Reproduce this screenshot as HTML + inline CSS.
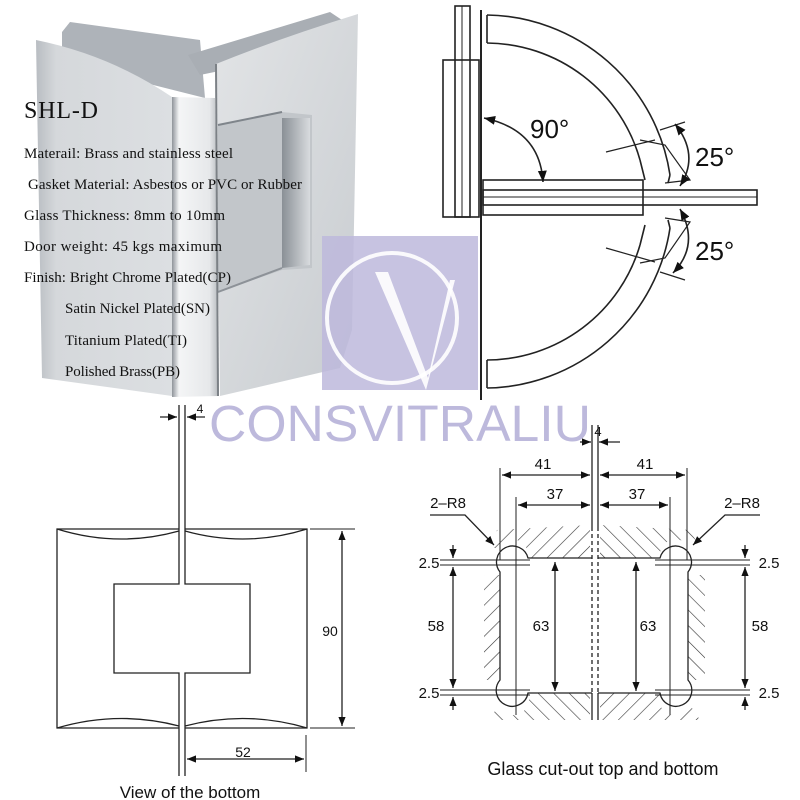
<!DOCTYPE html>
<html><head><meta charset="utf-8"><style>
html,body{margin:0;padding:0;background:#fff}
svg{display:block}
</style></head><body>
<svg width="800" height="800" viewBox="0 0 800 800" xmlns="http://www.w3.org/2000/svg">
<defs>
<linearGradient id="gL" x1="0" y1="0" x2="1" y2="0"><stop offset="0" stop-color="#b9bdc2"/><stop offset="0.15" stop-color="#d5d8db"/><stop offset="1" stop-color="#dcdfe2"/></linearGradient>
<linearGradient id="gE" x1="0" y1="0" x2="1" y2="0"><stop offset="0" stop-color="#8f949a"/><stop offset="0.15" stop-color="#f4f5f6"/><stop offset="0.8" stop-color="#e6e8ea"/><stop offset="1" stop-color="#b4b8bc"/></linearGradient>
<linearGradient id="gR" x1="0" y1="0" x2="1" y2="1"><stop offset="0" stop-color="#e2e4e6"/><stop offset="1" stop-color="#c8ccd0"/></linearGradient>
<linearGradient id="gC" x1="0" y1="0" x2="1" y2="0"><stop offset="0" stop-color="#8a9096"/><stop offset="1" stop-color="#d8dbde"/></linearGradient>
<pattern id="hat" width="11" height="11" patternUnits="userSpaceOnUse" patternTransform="rotate(45)"><line x1="0" y1="0" x2="0" y2="11" stroke="#333" stroke-width="1.2"/></pattern>
<pattern id="hat2" width="11" height="11" patternUnits="userSpaceOnUse" patternTransform="rotate(-45)"><line x1="0" y1="0" x2="0" y2="11" stroke="#333" stroke-width="1.2"/></pattern>
<marker id="ar" viewBox="0 0 10 10" refX="10" refY="5" markerWidth="7" markerHeight="7" orient="auto-start-reverse"><path d="M0,1 L10,5 L0,9 z" fill="#111"/></marker>
</defs>

<!-- ===== hinge photo ===== -->
<polygon points="62,32 70,22 200,40 205,98 62,62" fill="#aeb3b9"/>
<polygon points="188,55 330,12 345,22 345,45 200,75" fill="#a9aeb4"/>
<path d="M36,40 Q110,55 172,97 L172,396 L42,378 Z" fill="url(#gL)"/>
<path d="M172,97 L215,98 L219,396 L172,397 Z" fill="url(#gE)"/>
<path d="M216,64 Q280,38 358,14 L352,330 L340,368 L220,396 Z" fill="url(#gR)"/>
<polygon points="218,125 282,112 312,115 312,268 282,270 218,292" fill="#c2c6ca"/>
<polygon points="282,118 310,118 310,265 282,268" fill="url(#gC)"/>
<polyline points="218,292 282,268" stroke="#8d9298" stroke-width="2" fill="none"/>
<polyline points="218,125 282,112" stroke="#7f858b" stroke-width="2" fill="none"/>
<line x1="216" y1="64" x2="218" y2="396" stroke="#7c8186" stroke-width="2"/>

<g font-family="'Liberation Serif',serif" fill="#111" lengthAdjust="spacingAndGlyphs">
<text x="24" y="118" font-size="24" textLength="74">SHL-D</text>
<text x="24" y="158" font-size="15" textLength="209">Materail: Brass and stainless steel</text>
<text x="28" y="189" font-size="15" textLength="274">Gasket Material: Asbestos or PVC or Rubber</text>
<text x="24" y="220" font-size="15" textLength="201">Glass Thickness: 8mm to 10mm</text>
<text x="24" y="251" font-size="15" textLength="198">Door weight: 45 kgs maximum</text>
<text x="24" y="282" font-size="15" textLength="207">Finish: Bright Chrome Plated(CP)</text>
<text x="65" y="313" font-size="15" textLength="145">Satin Nickel Plated(SN)</text>
<text x="65" y="345" font-size="15" textLength="122">Titanium Plated(TI)</text>
<text x="65" y="376" font-size="15" textLength="115">Polished Brass(PB)</text>
</g>

<!-- ===== top right diagram ===== -->
<g stroke="#222" fill="none" stroke-width="1.6">
<rect x="455" y="6" width="15" height="211"/>
<line x1="462" y1="6" x2="462" y2="217" stroke-width="1"/>
<rect x="443" y="60" width="36" height="157"/>
<line x1="481" y1="10" x2="481" y2="400" stroke-width="2"/>
<path d="M487,15 A188,188 0 0 1 670,175"/>
<path d="M487,43 A160,160 0 0 1 640,160"/>
<line x1="487" y1="15" x2="487" y2="43"/>
<path d="M640,160 L645,180 M670,175 L668,183"/>
<path d="M487,388 A188,188 0 0 0 670,228"/>
<path d="M487,360 A160,160 0 0 0 640,245"/>
<line x1="487" y1="388" x2="487" y2="360"/>
<path d="M640,245 L645,225 M670,228 L668,220"/>
<rect x="483" y="180" width="160" height="35"/>
<rect x="483" y="190" width="274" height="15"/>
<line x1="483" y1="197" x2="757" y2="197" stroke-width="1"/>
<path d="M640,140 L665,145 L690,180 L665,183" stroke-width="1.2"/>
<path d="M640,263 L665,258 L690,222 L665,218" stroke-width="1.2"/>
<path d="M606,152 L655,140 M606,248 L655,262" stroke-width="1.2"/>
<path d="M660,130 L685,122 M660,272 L685,280" stroke-width="1.2"/>
<path d="M484,118 Q540,130 543,182" marker-start="url(#ar)" marker-end="url(#ar)"/>
<path d="M675,124 Q700,155 680,186" marker-start="url(#ar)" marker-end="url(#ar)"/>
<path d="M680,209 Q700,245 673,273" marker-start="url(#ar)" marker-end="url(#ar)"/>
</g>
<g font-family="'Liberation Sans',sans-serif" fill="#111">
<text x="530" y="138" font-size="26">90°</text>
<text x="695" y="166" font-size="26">25°</text>
<text x="695" y="260" font-size="26">25°</text>
</g>

<!-- ===== watermark ===== -->
<rect x="322" y="236" width="156" height="154" fill="#bdb9dc" opacity="0.85"/>
<circle cx="392" cy="318" r="65" fill="none" stroke="#fff" stroke-width="4" opacity="0.9"/>
<path d="M375,272 L388,272 L428,378 L450,280 L455,280 L426,390 Z" fill="#fff" opacity="0.9"/>
<text x="400" y="441" text-anchor="middle" font-family="'Liberation Sans',sans-serif" font-size="51" fill="#bdb9dc" textLength="382" lengthAdjust="spacingAndGlyphs">CONSVITRALIU</text>

<!-- ===== bottom left ===== -->
<g stroke="#222" fill="none" stroke-width="1.3">
<path d="M179,405 L179,584 L114,584 L114,673 L179,673 L179,776"/>
<path d="M185,405 L185,584 L250,584 L250,673 L185,673 L185,776"/>
<path d="M179,529 L57,529 L57,728 L179,728"/>
<path d="M185,529 L307,529 L307,728 L185,728"/>
<path d="M57,529 Q118,548 179,531 M185,531 Q246,548 307,529"/>
<path d="M57,728 Q118,710 179,726 M185,726 Q246,710 307,728"/>
<path d="M310,529 L355,529 M310,728 L355,728" stroke-width="1"/>
<line x1="342" y1="531" x2="342" y2="726" marker-start="url(#ar)" marker-end="url(#ar)"/>
<line x1="306" y1="735" x2="306" y2="772" stroke-width="1"/>
<line x1="187" y1="759" x2="304" y2="759" marker-start="url(#ar)" marker-end="url(#ar)"/>
<line x1="160" y1="417" x2="177" y2="417" marker-end="url(#ar)"/>
<line x1="205" y1="417" x2="187" y2="417" marker-end="url(#ar)"/>
</g>
<g font-family="'Liberation Sans',sans-serif" fill="#111">
<text x="330" y="636" font-size="14" text-anchor="middle">90</text>
<text x="243" y="757" font-size="14" text-anchor="middle">52</text>
<text x="200" y="413" font-size="12" text-anchor="middle">4</text>
<text x="190" y="798" font-size="17" text-anchor="middle">View of the bottom</text>
</g>

<!-- ===== bottom right ===== -->
<g>
<path d="M497,530 L590,525 L590,558 L528,558 A16,16 0 0 0 498,548 L490,548 Z" fill="url(#hat)"/>
<path d="M600,525 L690,530 L700,548 L690,548 A16,16 0 0 0 660,558 L600,558 Z" fill="url(#hat2)"/>
<path d="M484,575 L500,575 L500,680 L484,680 Z" fill="url(#hat)"/>
<path d="M688,575 L705,575 L705,680 L688,680 Z" fill="url(#hat2)"/>
<path d="M498,705 A16,16 0 0 0 528,693 L590,693 L590,720 L490,720 Z" fill="url(#hat2)"/>
<path d="M600,693 L660,693 A16,16 0 0 0 690,705 L700,720 L600,720 Z" fill="url(#hat)"/>
</g>
<g stroke="#222" fill="none" stroke-width="1.3">
<line x1="592" y1="425" x2="592" y2="527"/><line x1="598" y1="425" x2="598" y2="527"/>
<line x1="592" y1="527" x2="592" y2="693" stroke-dasharray="4,3"/><line x1="598" y1="527" x2="598" y2="693" stroke-dasharray="4,3"/>
<line x1="592" y1="693" x2="592" y2="720"/><line x1="598" y1="693" x2="598" y2="720"/>
<path d="M592,558 L528,558 A16,16 0 1 0 500,572 L500,680 A16,16 0 1 0 528,693 L592,693"/>
<path d="M598,558 L660,558 A16,16 0 1 1 688,572 L688,680 A16,16 0 1 1 660,693 L598,693"/>
<path d="M500,468 L500,560 M516,497 L516,715 M670,497 L670,715 M687,468 L687,560" stroke-width="1"/>
<line x1="502" y1="475" x2="590" y2="475" marker-start="url(#ar)" marker-end="url(#ar)"/>
<line x1="600" y1="475" x2="685" y2="475" marker-start="url(#ar)" marker-end="url(#ar)"/>
<line x1="518" y1="505" x2="590" y2="505" marker-start="url(#ar)" marker-end="url(#ar)"/>
<line x1="600" y1="505" x2="668" y2="505" marker-start="url(#ar)" marker-end="url(#ar)"/>
<line x1="580" y1="442" x2="591" y2="442" marker-end="url(#ar)"/>
<line x1="620" y1="442" x2="599" y2="442" marker-end="url(#ar)"/>
<path d="M430,515 L465,515 L494,545" marker-end="url(#ar)"/>
<path d="M760,515 L725,515 L693,545" marker-end="url(#ar)"/>
<path d="M440,560 L530,560 M440,565 L530,565 M440,690 L530,690 M440,695 L530,695" stroke-width="1"/>
<path d="M655,560 L750,560 M655,565 L750,565 M655,690 L750,690 M655,695 L750,695" stroke-width="1"/>
<line x1="453" y1="567" x2="453" y2="688" marker-start="url(#ar)" marker-end="url(#ar)"/>
<line x1="555" y1="562" x2="555" y2="691" marker-start="url(#ar)" marker-end="url(#ar)"/>
<line x1="636" y1="562" x2="636" y2="691" marker-start="url(#ar)" marker-end="url(#ar)"/>
<line x1="745" y1="567" x2="745" y2="688" marker-start="url(#ar)" marker-end="url(#ar)"/>
<line x1="453" y1="545" x2="453" y2="558" marker-end="url(#ar)"/>
<line x1="453" y1="710" x2="453" y2="697" marker-end="url(#ar)"/>
<line x1="745" y1="545" x2="745" y2="558" marker-end="url(#ar)"/>
<line x1="745" y1="710" x2="745" y2="697" marker-end="url(#ar)"/>
</g>
<g font-family="'Liberation Sans',sans-serif" fill="#111" font-size="15">
<text x="598" y="436" text-anchor="middle" font-size="13">4</text>
<text x="543" y="469" text-anchor="middle">41</text>
<text x="645" y="469" text-anchor="middle">41</text>
<text x="555" y="499" text-anchor="middle">37</text>
<text x="637" y="499" text-anchor="middle">37</text>
<text x="448" y="508" text-anchor="middle">2–R8</text>
<text x="742" y="508" text-anchor="middle">2–R8</text>
<text x="429" y="568" text-anchor="middle">2.5</text>
<text x="769" y="568" text-anchor="middle">2.5</text>
<text x="429" y="698" text-anchor="middle">2.5</text>
<text x="769" y="698" text-anchor="middle">2.5</text>
<text x="436" y="631" text-anchor="middle">58</text>
<text x="541" y="631" text-anchor="middle">63</text>
<text x="648" y="631" text-anchor="middle">63</text>
<text x="760" y="631" text-anchor="middle">58</text>
<text x="603" y="775" text-anchor="middle" font-size="18">Glass cut-out top and bottom</text>
</g>
</svg>
</body></html>
